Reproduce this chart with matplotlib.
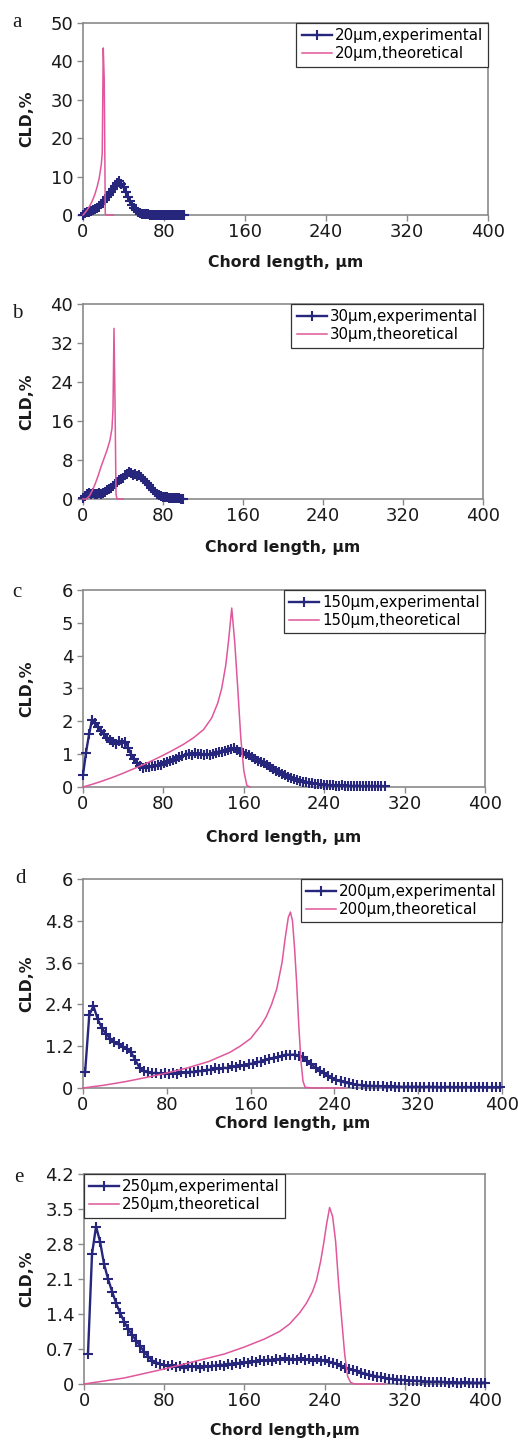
import numpy as np
import matplotlib
matplotlib.use("Agg")
import matplotlib.pyplot as plt

# ---------------- data ----------------
x_ticks = [0, 80, 160, 240, 320, 400]

# panel a (20 um)
a_exp_x = np.arange(0, 101, 2)
a_exp_y = [0.1, 0.4, 0.7, 0.9, 1.1, 1.3, 1.5, 1.8, 2.2, 2.8,
           3.4, 4.0, 4.6, 5.3, 6.0, 6.8, 7.6, 8.3, 8.8, 8.2,
           7.2, 6.0, 4.8, 3.6, 2.6, 1.8, 1.2, 0.8, 0.5, 0.35,
           0.25, 0.2, 0.15, 0.12, 0.1, 0.1, 0.08, 0.08, 0.07, 0.07,
           0.06, 0.06, 0.05, 0.05, 0.05, 0.05, 0.04, 0.04, 0.04, 0.04,
           0.04]
a_th_x = [0, 2, 4, 6, 8, 10, 12, 14, 16, 18, 19, 20, 21, 22, 23, 24, 26, 28, 30]
a_th_y = [0, 0.6, 1.3, 2.1, 3.0, 4.2, 5.6, 7.4, 9.6, 13.0, 16.0, 43.5, 35.0, 0.3, 0, 0, 0, 0, 0]
a_yticks = [0, 10, 20, 30, 40, 50]
a_yticklabels = ["0", "10", "20", "30", "40", "50"]

# panel b (30 um)
b_exp_x = np.arange(0, 101, 2)
b_exp_y = [0.2, 0.6, 1.0, 1.2, 1.0, 1.3, 1.1, 1.0, 1.2, 1.1,
           1.3, 1.5, 1.8, 2.0, 2.3, 2.7, 3.1, 3.4, 3.8, 4.1,
           4.4, 4.9, 5.1, 5.5, 5.3, 5.0, 5.1, 4.8, 4.9, 4.6,
           4.2, 3.7, 3.3, 2.8, 2.3, 1.8, 1.4, 1.0, 0.8, 0.6,
           0.5, 0.4, 0.35, 0.3, 0.25, 0.2, 0.2, 0.15, 0.15, 0.1,
           0.1]
b_th_x = [0, 3, 6, 9, 12, 15, 18, 21, 24, 27, 29, 30, 31, 32, 33, 34, 36, 38, 40]
b_th_y = [0, 0, 0.5, 1.6, 3.0, 4.7, 6.6, 8.3, 10.0, 12.1, 14.5, 18.5, 35.0, 20.0, 1.0, 0, 0, 0, 0]
b_yticks = [0, 8, 16, 24, 32, 40]
b_yticklabels = ["0", "8", "16", "24", "32", "40"]

# panel c (150 um)
c_exp_x = np.arange(0, 301, 3)
c_exp_y = [0.37, 1.05, 1.6, 2.05, 1.95, 1.82, 1.7, 1.6, 1.5, 1.42,
           1.38, 1.32, 1.40, 1.35, 1.38, 1.20, 0.98, 0.85, 0.72, 0.65,
           0.58, 0.62, 0.60, 0.65, 0.63, 0.68, 0.66, 0.72, 0.75, 0.78,
           0.82, 0.85, 0.90, 0.94, 0.98, 1.02, 0.98, 1.03, 0.99, 1.01,
           0.97, 1.00, 0.98, 1.02, 1.05, 1.08, 1.06, 1.10, 1.12, 1.15,
           1.18, 1.12, 1.08, 1.05, 1.02, 0.98, 0.92, 0.86, 0.80, 0.76,
           0.72, 0.66, 0.60, 0.54, 0.49, 0.45, 0.41, 0.36, 0.31, 0.27,
           0.24, 0.21, 0.19, 0.16, 0.14, 0.13, 0.11, 0.10, 0.09, 0.08,
           0.07, 0.06, 0.05, 0.05, 0.04, 0.04, 0.05, 0.03, 0.04, 0.03,
           0.03, 0.04, 0.03, 0.02, 0.03, 0.03, 0.02, 0.03, 0.02, 0.03,
           0.02]
c_th_x = [0, 10, 20, 30, 40, 50, 60, 70, 80, 90, 100, 110, 120, 128, 134, 138, 142,
          145, 148, 151, 154, 157, 160, 163, 166]
c_th_y = [0, 0.09, 0.19, 0.3, 0.42, 0.55, 0.68, 0.82, 0.97, 1.13, 1.3, 1.5, 1.75, 2.1,
          2.55, 3.0, 3.7, 4.5, 5.45, 4.4, 3.0, 1.5, 0.5, 0.05, 0]
c_yticks = [0, 1, 2, 3, 4, 5, 6]
c_yticklabels = ["0", "1", "2", "3", "4", "5", "6"]

# panel d (200 um)
d_exp_x = np.arange(2, 400, 4)
d_exp_y = [0.45, 2.1, 2.35, 1.98, 1.72, 1.55, 1.42, 1.32, 1.25, 1.18,
           1.12, 1.02, 0.80, 0.58, 0.48, 0.45, 0.42, 0.44, 0.40, 0.42,
           0.40, 0.43, 0.41, 0.45, 0.43, 0.47, 0.45, 0.49, 0.48, 0.52,
           0.52, 0.56, 0.54, 0.58, 0.57, 0.62, 0.60, 0.65, 0.64, 0.69,
           0.70, 0.74, 0.76, 0.81, 0.83, 0.87, 0.88, 0.93, 0.96, 0.95,
           0.96, 0.93, 0.88, 0.78, 0.68, 0.58, 0.50, 0.42, 0.35, 0.28,
           0.23, 0.19, 0.16, 0.13, 0.11, 0.09, 0.08, 0.07, 0.06, 0.06,
           0.05, 0.05, 0.04, 0.05, 0.04, 0.04, 0.03, 0.04, 0.03, 0.04,
           0.03, 0.03, 0.04, 0.03, 0.03, 0.02, 0.03, 0.03, 0.02, 0.03,
           0.02, 0.03, 0.02, 0.02, 0.03, 0.02, 0.02, 0.02, 0.02, 0.02]
d_th_x = [0, 20, 40, 60, 80, 100, 120, 140, 150, 160, 170, 175, 180, 185, 190, 193,
          196, 198, 200, 202, 204, 206, 208, 210, 212, 220, 235, 250]
d_th_y = [0, 0.08, 0.18, 0.3, 0.43, 0.58, 0.76, 1.02, 1.2, 1.42, 1.8, 2.05, 2.4, 2.85,
          3.6, 4.3, 4.9, 5.05, 4.8, 4.0, 3.0, 1.8, 0.8, 0.2, 0.02, 0, 0, 0]
d_yticks = [0, 1.2, 2.4, 3.6, 4.8, 6.0]
d_yticklabels = ["0", "1.2", "2.4", "3.6", "4.8", "6"]

# panel e (250 um)
e_exp_x = np.arange(4, 401, 4)
e_exp_y = [0.61, 2.6, 3.15, 2.85, 2.4, 2.1, 1.85, 1.62, 1.42, 1.25,
           1.1, 0.98, 0.87, 0.76, 0.64, 0.55, 0.47, 0.43, 0.40, 0.38,
           0.36, 0.38, 0.34, 0.36, 0.33, 0.37, 0.34, 0.36, 0.32, 0.37,
           0.34, 0.37, 0.36, 0.39, 0.37, 0.41, 0.39, 0.42, 0.40, 0.44,
           0.42, 0.46, 0.44, 0.48, 0.46, 0.49, 0.47, 0.50, 0.48, 0.52,
           0.49, 0.51, 0.48, 0.52, 0.49, 0.50, 0.47, 0.50, 0.46, 0.48,
           0.44, 0.43, 0.40, 0.36, 0.33, 0.31, 0.28, 0.26, 0.23, 0.21,
           0.19, 0.17, 0.15, 0.14, 0.12, 0.11, 0.10, 0.09, 0.08, 0.08,
           0.07, 0.07, 0.06, 0.06, 0.05, 0.05, 0.04, 0.05, 0.04, 0.04,
           0.03, 0.04, 0.03, 0.03, 0.04, 0.03, 0.03, 0.02, 0.03, 0.03]
e_th_x = [0, 20, 40, 60, 80, 100, 120, 140, 160, 180, 195, 205, 215, 222, 228, 232,
          236, 239, 242, 245, 248, 251, 254, 257, 260, 263, 266, 270, 285, 300]
e_th_y = [0, 0.06, 0.12, 0.21, 0.3, 0.4, 0.5, 0.6, 0.74, 0.9, 1.05, 1.2, 1.42, 1.62,
          1.85, 2.08, 2.45, 2.8, 3.2, 3.53, 3.35, 2.85, 2.0, 1.3, 0.6, 0.15, 0.03, 0, 0, 0]
e_yticks = [0, 0.7, 1.4, 2.1, 2.8, 3.5, 4.2]
e_yticklabels = ["0", "0.7", "1.4", "2.1", "2.8", "3.5", "4.2"]

panel_letters = ["a", "b", "c", "d", "e"]
sizes_um = ["20", "30", "150", "200", "250"]
xlabels = ["Chord length, μm"] * 4 + ["Chord length,μm"]

# ---------------- layout (pixels) ----------------
W, H = 518, 1440
fig = plt.figure(figsize=(W / 100, H / 100), dpi=100)
plt.rcParams['font.family'] = ['DejaVu Sans']

# left, right, top, bottom in pixels
boxes = [(83, 488, 23, 215), (83, 483, 304, 499), (83, 485, 590, 787),
         (83, 502, 879, 1088), (84, 485, 1174, 1384)]
xlabel_gap = [40, 41, 43, 28, 39]
letter_pos = [(12, 27), (12, 318), (12, 597), (15, 883), (14, 1182)]
legend_loc = ["upper right"] * 4 + ["upper left"]

panels = [
    (a_exp_x, a_exp_y, a_th_x, a_th_y, a_yticks, a_yticklabels),
    (b_exp_x, b_exp_y, b_th_x, b_th_y, b_yticks, b_yticklabels),
    (c_exp_x, c_exp_y, c_th_x, c_th_y, c_yticks, c_yticklabels),
    (d_exp_x, d_exp_y, d_th_x, d_th_y, d_yticks, d_yticklabels),
    (e_exp_x, e_exp_y, e_th_x, e_th_y, e_yticks, e_yticklabels),
]

BLUE = "#26267c"
PINK = "#e0579b"
SPINE = "#8a8a8a"

for i, (ex, ey, tx, ty, yt, ytl) in enumerate(panels):
    l, r, t, b = boxes[i]
    ax = fig.add_axes([l / W, 1 - b / H, (r - l) / W, (b - t) / H])
    ax.plot(ex, ey, color=BLUE, lw=1.7, marker='+', ms=6.5, mew=1.5,
            label=f"{sizes_um[i]}μm,experimental", clip_on=False, zorder=3)
    ax.plot(tx, ty, color=PINK, lw=1.1,
            label=f"{sizes_um[i]}μm,theoretical", clip_on=False, zorder=4)
    ax.set_xlim(0, 400)
    ax.set_ylim(yt[0], yt[-1])
    ax.set_xticks(x_ticks)
    ax.set_xticklabels([str(v) for v in x_ticks])
    ax.set_yticks(yt)
    ax.set_yticklabels(ytl)
    ax.tick_params(axis='both', labelsize=13, length=4, width=1, color=SPINE,
                   labelcolor="#1a1a1a", pad=3, direction='out')
    ax.tick_params(axis='x', pad=2)
    for s in ax.spines.values():
        s.set_color(SPINE)
        s.set_linewidth(1.2)
    ax.set_xlabel(xlabels[i], fontsize=11.3, fontweight='bold', color="#1a1a1a")
    ax.xaxis.set_label_coords(0.5, -xlabel_gap[i] / (b - t))
    ax.set_ylabel("CLD,%", fontsize=11.3, fontweight='bold', color="#1a1a1a")
    ax.yaxis.set_label_coords((34 - l) / (r - l), 0.5)
    leg = ax.legend(loc=legend_loc[i], bbox_to_anchor=(0, 0, 1, 1), borderaxespad=0,
                    fontsize=10.8, numpoints=1, handlelength=2.0, handletextpad=0.2,
                    labelspacing=0.2, borderpad=0.35, fancybox=False, framealpha=1)
    leg.get_frame().set_edgecolor("#333333")
    leg.get_frame().set_linewidth(0.9)
    lx, ly = letter_pos[i]
    fig.text(lx / W, 1 - ly / H, panel_letters[i], family=['Liberation Serif', 'DejaVu Serif'],
             fontsize=15, va='baseline', ha='left', color="#1a1a1a")

fig.savefig("out.png", dpi=100)
